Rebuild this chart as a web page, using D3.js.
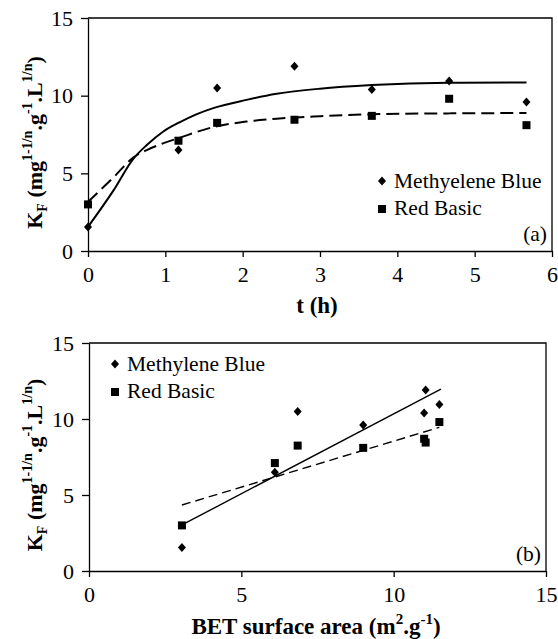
<!DOCTYPE html>
<html>
<head>
<meta charset="utf-8">
<script src="https://cdn.jsdelivr.net/npm/d3@7"></script>
<style>
  body { margin: 0; background: #fff; }
  .axis path, .axis line { stroke: #000; stroke-width: 1.3; }
</style>
</head>
<body>
<svg id="chart" width="558" height="639"></svg>
<script>
// Kinetics of KF -- (a) vs time, (b) vs BET area

var time = [0, 1.17, 1.67, 2.67, 3.67, 4.67, 5.67];
var betArea = [3.05, 6.1, 6.85, 11.05, 11.0, 11.5, 9.0];
var mbKf = [1.55, 6.5, 10.5, 11.9, 10.4, 10.95, 9.6];
var rbKf = [3.0, 7.1, 8.25, 8.45, 8.7, 9.8, 8.1];

// fitted curves
var mbFitT = [0, 0.33, 0.59, 0.76, 0.97, 1.19, 1.4, 1.62, 2.05, 2.44, 3, 3.67, 4.67, 5.67];
var mbFitK = [1.55, 3.9, 5.96, 6.82, 7.68, 8.3, 8.8, 9.2, 9.73, 10.12, 10.45, 10.68, 10.83, 10.85];
var rbFitT = [0, 0.33, 0.59, 0.76, 0.97, 1.19, 1.62, 2.05, 2.44, 3, 3.67, 4.67, 5.67];
var rbFitK = [3.16, 4.74, 6.03, 6.5, 6.93, 7.3, 7.98, 8.33, 8.52, 8.68, 8.8, 8.86, 8.88];

// linear fits in (b)
var mbLineBet = [3.05, 11.55];
var mbLineK = [3.03, 11.97];
var rbLineBet = [3.05, 11.5];
var rbLineK = [4.34, 9.45];

var tTicks = [0, 1, 2, 3, 4, 5, 6];
var betTicks = [0, 5, 10, 15];
var kTicks = [0, 5, 10, 15];

var FONT = "Liberation Serif";
var svg = d3.select("#chart");

function zip(a, b) { return a.map(function (v, i) { return [v, b[i]]; }); }

function diamond(g, pts, x, y) {
  g.selectAll("path.dia").data(pts).enter().append("path")
    .attr("class", "dia")
    .attr("d", function (d) {
      var cx = x(d[0]), cy = y(d[1]);
      return "M" + cx + "," + (cy - 4.5) + "L" + (cx + 4) + "," + cy +
        "L" + cx + "," + (cy + 4.5) + "L" + (cx - 4) + "," + cy + "Z";
    })
    .attr("fill", "#000");
}

function square(g, pts, x, y) {
  g.selectAll("rect.sq").data(pts).enter().append("rect")
    .attr("class", "sq")
    .attr("x", function (d) { return x(d[0]) - 4; })
    .attr("y", function (d) { return y(d[1]) - 4; })
    .attr("width", 8).attr("height", 8)
    .attr("fill", "#000");
}

function label(g) {
  return g.append("text").attr("font-family", FONT).attr("fill", "#000");
}

function kTitle(g, cx, cy) {
  var t = label(g).attr("font-weight", "bold").attr("font-size", 22)
    .attr("transform", "translate(" + cx + "," + cy + ") rotate(-90)")
    .attr("text-anchor", "middle");
  t.append("tspan").text("K");
  t.append("tspan").attr("dy", 5).attr("font-size", 14).text("F");
  t.append("tspan").attr("dy", -5).text(" (mg");
  t.append("tspan").attr("dy", -10).attr("font-size", 14).text("1-1/n");
  t.append("tspan").attr("dy", 10).text(".g");
  t.append("tspan").attr("dy", -10).attr("font-size", 14).text("-1");
  t.append("tspan").attr("dy", 10).text(".L");
  t.append("tspan").attr("dy", -10).attr("font-size", 14).text("1/n");
  t.append("tspan").attr("dy", 10).text(")");
}

function panel(opts) {
  var x = d3.scaleLinear().domain(opts.xDomain).range([opts.left, opts.right]);
  var y = d3.scaleLinear().domain([0, 15]).range([opts.bottom, opts.top]);
  var g = svg.append("g");

  // frame
  g.append("path")
    .attr("d", "M" + opts.left + "," + opts.top + "H" + opts.right + "V" + opts.bottom)
    .attr("fill", "none").attr("stroke", "#000").attr("stroke-width", 1.3);

  g.append("g").attr("class", "axis")
    .attr("transform", "translate(0," + opts.bottom + ")")
    .call(d3.axisBottom(x).tickValues(opts.xTicks).tickFormat(d3.format("d"))
      .tickSize(6).tickSizeOuter(0).tickPadding(9))
    .attr("font-family", FONT).attr("font-size", 22);

  g.append("g").attr("class", "axis")
    .attr("transform", "translate(" + opts.left + ",0)")
    .call(d3.axisLeft(y).tickValues(kTicks).tickFormat(d3.format("d"))
      .tickSize(7).tickSizeOuter(0).tickPadding(8))
    .attr("font-family", FONT).attr("font-size", 22);

  var line = d3.line().x(function (d) { return x(d[0]); }).y(function (d) { return y(d[1]); })
    .curve(d3.curveMonotoneX);

  g.append("path").datum(opts.mbFit).attr("d", line)
    .attr("fill", "none").attr("stroke", "#000").attr("stroke-width", opts.lw);
  g.append("path").datum(opts.rbFit).attr("d", line)
    .attr("fill", "none").attr("stroke", "#000").attr("stroke-width", opts.lw)
    .attr("stroke-dasharray", opts.dash);

  diamond(g, zip(opts.xs, mbKf), x, y);
  square(g, zip(opts.xs, rbKf), x, y);

  // legend
  var lg = g.append("g").attr("transform", "translate(" + opts.legend[0] + "," + opts.legend[1] + ")");
  lg.append("path").attr("d", "M0,-4.5L4,0L0,4.5L-4,0Z").attr("fill", "#000");
  label(lg).attr("x", 12).attr("y", 7).attr("font-size", 21.5).text(opts.mbName);
  lg.append("rect").attr("x", -4).attr("y", 24).attr("width", 8).attr("height", 8).attr("fill", "#000");
  label(lg).attr("x", 12).attr("y", 34).attr("font-size", 21.5).text("Red Basic");

  label(g).attr("x", opts.right - 5).attr("y", opts.bottom - 10)
    .attr("text-anchor", "end").attr("font-size", 21.5).text(opts.tag);

  kTitle(g, 42, (opts.top + opts.bottom) / 2 + 8);
  return g;
}

var a = panel({
  left: 88, right: 552, top: 18, bottom: 251,
  xDomain: [0, 6], xTicks: tTicks, xs: time,
  mbFit: zip(mbFitT, mbFitK), rbFit: zip(rbFitT, rbFitK),
  lw: 2, dash: "13,6",
  legend: [382, 181], mbName: "Methyelene Blue", tag: "(a)"
});
label(a).attr("font-weight", "bold").attr("font-size", 23).attr("x", 317).attr("y", 313)
  .attr("text-anchor", "middle").text("t (h)");

var b = panel({
  left: 89, right: 546, top: 343, bottom: 571,
  xDomain: [0, 15], xTicks: betTicks, xs: betArea,
  mbFit: zip(mbLineBet, mbLineK), rbFit: zip(rbLineBet, rbLineK),
  lw: 1.4, dash: "9,5",
  legend: [115, 364], mbName: "Methylene Blue", tag: "(b)"
});
var bt = label(b).attr("font-weight", "bold").attr("font-size", 23)
  .attr("x", 316).attr("y", 634).attr("text-anchor", "middle");
bt.append("tspan").text("BET surface area (m");
bt.append("tspan").attr("dy", -10).attr("font-size", 15).text("2");
bt.append("tspan").attr("dy", 10).text(".g");
bt.append("tspan").attr("dy", -10).attr("font-size", 15).text("-1");
bt.append("tspan").attr("dy", 10).text(")");
</script>
</body>
</html>
